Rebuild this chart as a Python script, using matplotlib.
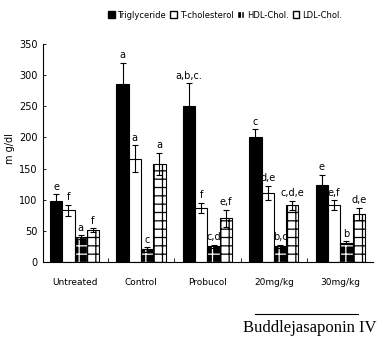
import numpy as np
import matplotlib.pyplot as plt
from matplotlib.patches import Patch

groups = ['Untreated', 'Control', 'Probucol', '20mg/kg', '30mg/kg']
series = ['Triglyceride', 'T-cholesterol', 'HDL-Chol.', 'LDL-Chol.']

tg = [98, 285, 251, 201, 124]
tg_err = [11, 35, 36, 12, 16]
tc = [83, 166, 87, 111, 91]
tc_err = [9, 21, 8, 11, 8]
hdl = [40, 20, 25, 25, 31]
hdl_err = [3, 4, 3, 3, 2]
ldl = [51, 157, 70, 91, 77]
ldl_err = [3, 18, 14, 7, 10]

tg_lab = ['e', 'a', 'a,b,c.', 'c', 'e']
tc_lab = ['f', 'a', 'f', 'd,e', 'e,f']
hdl_lab = ['a', 'c', 'c,d', 'b,c', 'b']
ldl_lab = ['f', 'a', 'e,f', 'c,d,e', 'd,e']

plt.rcParams['font.family'] = ['Liberation Sans Narrow', 'DejaVu Sans']
plt.rcParams['hatch.linewidth'] = 0.9

fig = plt.figure(figsize=(3.88, 3.38), dpi=100)
ax = fig.add_axes([0.111, 0.225, 0.85, 0.645])

x = np.arange(len(groups))
w = 0.185
offs = [-1.5 * w, -0.5 * w, 0.5 * w, 1.5 * w]

ax.bar(x + offs[0], tg, w, color='black', edgecolor='black', lw=0.8)
ax.bar(x + offs[1], tc, w, color='white', edgecolor='black', lw=0.8)
# HDL: black with white grid
ax.bar(x + offs[2], hdl, w, color='black', edgecolor='white', hatch='++', lw=0)
ax.bar(x + offs[2], hdl, w, color='none', edgecolor='black', lw=0.8)
# LDL: white with black grid
ax.bar(x + offs[3], ldl, w, color='white', edgecolor='black', hatch='++', lw=0.8)

for vals, errs, labs, o in [(tg, tg_err, tg_lab, offs[0]), (tc, tc_err, tc_lab, offs[1]),
                            (hdl, hdl_err, hdl_lab, offs[2]), (ldl, ldl_err, ldl_lab, offs[3])]:
    ax.errorbar(x + o, vals, yerr=errs, fmt='none', ecolor='black', elinewidth=0.8, capsize=2, capthick=0.8)
    for xi, v, e, l in zip(x + o, vals, errs, labs):
        ax.text(xi, v + e + 4, l, ha='center', va='bottom', fontsize=7)

ax.set_xlim(-0.474, 4.49)
ax.set_ylim(0, 350)
ax.set_yticks(np.arange(0, 351, 50))
ax.set_xticks(x[:-1] + 0.5)
ax.set_xticklabels([])
ax.tick_params(axis='x', direction='in', length=3, width=0.6)
ax.tick_params(axis='y', direction='in', length=2, width=0.6, labelsize=7, pad=4)
ax.spines['top'].set_visible(False)
ax.spines['right'].set_visible(False)
ax.spines['left'].set_linewidth(0.8)
ax.spines['bottom'].set_linewidth(0.8)
ax.set_ylabel('m g/dl', fontsize=7)
ax.yaxis.set_label_coords(-0.085, 0.52)

for xi, g in zip(x, groups):
    ax.text(xi, -0.075, g, transform=ax.get_xaxis_transform(), ha='center', va='top', fontsize=6.5)

fig.add_artist(plt.Line2D([255 / 388, 358 / 388], [1 - 314 / 338, 1 - 314 / 338], color='black', lw=0.8))
fig.text(310 / 388, 1 - 328 / 338, 'Buddlejasaponin IV', ha='center', va='center', fontsize=12,
         family='Liberation Serif')

handles = [Patch(facecolor='black', edgecolor='black'),
           Patch(facecolor='white', edgecolor='black'),
           Patch(facecolor='black', edgecolor='white', hatch='+'),
           Patch(facecolor='white', edgecolor='black', hatch='+')]
fig.legend(handles, series, loc='center', bbox_to_anchor=(0.58, 1 - 15 / 338), ncol=4, frameon=False,
           fontsize=6, handlelength=0.8, handleheight=0.8, handletextpad=0.3, columnspacing=0.5)

plt.savefig('out.png', dpi=100)
